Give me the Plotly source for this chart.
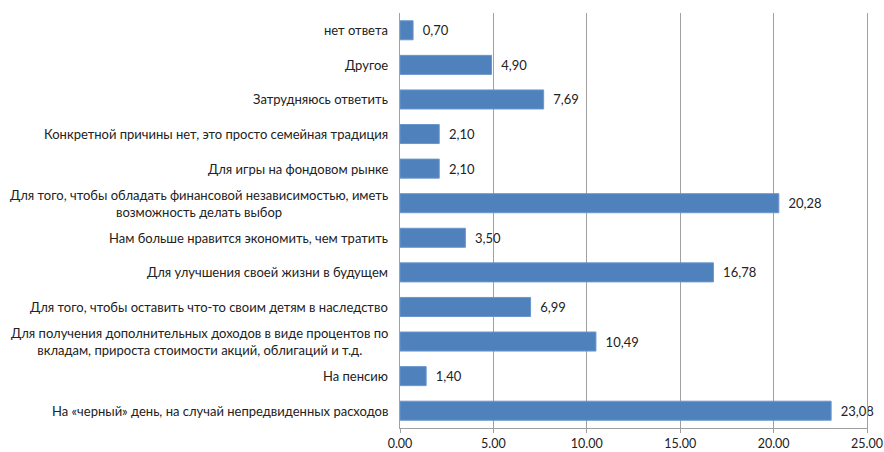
import plotly.graph_objects as go

categories = [
    "На «черный» день, на случай непредвиденных расходов",
    "На пенсию",
    "Для получения дополнительных доходов в виде процентов по<br>вкладам, прироста стоимости акций, облигаций и т.д.",
    "Для того, чтобы оставить что-то своим детям в наследство",
    "Для улучшения своей жизни в будущем",
    "Нам больше нравится экономить, чем тратить",
    "Для того, чтобы обладать финансовой независимостью, иметь<br>возможность делать выбор",
    "Для игры на фондовом рынке",
    "Конкретной причины нет, это просто семейная традиция",
    "Затрудняюсь ответить",
    "Другое",
    "нет ответа",
]
values = [23.08, 1.40, 10.49, 6.99, 16.78, 3.50, 20.28, 2.10, 2.10, 7.69, 4.90, 0.70]
x_ticks = [0, 5, 10, 15, 20, 25]

FONT = "Lato"
labels = ["\u00a0\u00a0" + f"{v:.2f}".replace(".", ",") for v in values]
ids = list(range(len(categories)))

fig = go.Figure(go.Bar(
    x=values, y=ids, orientation="h",
    marker=dict(color="#4F81BD", line=dict(color="#6A96CC", width=1)),
    text=labels, textposition="outside", cliponaxis=False,
    textfont=dict(family=FONT, size=13, color="#222222"),
    width=0.55,
))

for i, c in enumerate(categories):
    fig.add_annotation(x=0, xref="paper", y=i, yref="y", text=c,
                       xanchor="right", align="center", showarrow=False,
                       xshift=-10, font=dict(family=FONT, size=13, color="#222222"))

fig.update_layout(
    width=884, height=452,
    margin=dict(l=400, r=17, t=13, b=24, autoexpand=False),
    plot_bgcolor="white", paper_bgcolor="white",
    showlegend=False,
    font=dict(family=FONT, size=13, color="#222222"),
)
fig.update_xaxes(range=[0, 25], tickvals=x_ticks, tickformat=".2f",
                 showgrid=True, gridcolor="#A0A0A0", gridwidth=1,
                 showline=True, linecolor="#A0A0A0", ticks="outside",
                 ticklen=4, tickcolor="#A0A0A0", zeroline=False,
                 ticklabeloverflow="allow",
                 tickfont=dict(family=FONT, size=12.5, color="#222222"))
fig.update_yaxes(range=[-0.5, len(categories) - 0.5], showticklabels=False,
                 showgrid=False, showline=True, linecolor="#A0A0A0",
                 mirror=True, ticks="", zeroline=False)

fig.write_html(
    "out.html",
    config={"displayModeBar": False},
    post_script="document.body.style.margin='0';document.body.style.overflow='hidden';",
)
